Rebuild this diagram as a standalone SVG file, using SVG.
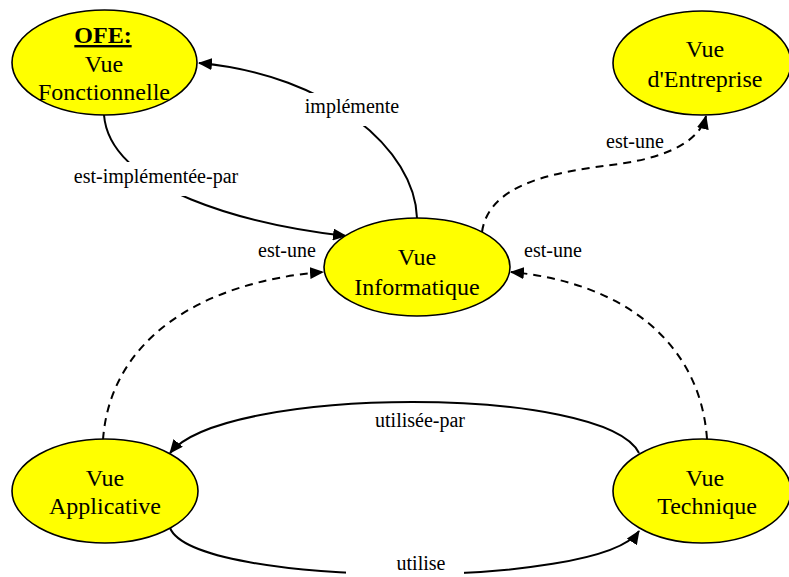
<svg xmlns="http://www.w3.org/2000/svg" width="789" height="577" viewBox="0 0 789 577">
<defs>
<marker id="arr" markerWidth="14" markerHeight="12" refX="13" refY="6" orient="auto" markerUnits="userSpaceOnUse">
<path d="M0,0 L14,6 L0,12 z" fill="#000"/>
</marker>
<style>
.node ellipse{fill:#ffff00;stroke:#000;stroke-width:1.6}
.node text{font-family:"Liberation Serif","Times New Roman",serif;font-size:24px;fill:#000;text-anchor:middle}
.edge{fill:none;stroke:#000;stroke-width:2;marker-end:url(#arr)}
.dash{stroke-dasharray:8,6}
.lbl{font-family:"Liberation Serif","Times New Roman",serif;font-size:20px;fill:#000;text-anchor:middle}
.bg{fill:#fff}
</style>
</defs>
<rect width="789" height="577" fill="#fff"/>
<g id="connectors">
<path class="edge" d="M417,218 C415,150 330,75 199,63"/>
<path class="edge" d="M104,115 C110,190 250,225 346,236"/>
<path class="edge dash" d="M482,232 C490,175 580,170 625,163 C670,156 700,140 706,116"/>
<path class="edge dash" d="M103,440 C110,340 200,282 323,272"/>
<path class="edge dash" d="M707,439 C700,340 620,282 511,272"/>
<path class="edge" d="M639,453 C605,385 225,385 170,453"/>
<path class="edge" d="M170,528 C195,588 600,590 639,531"/>
<rect class="bg" x="302" y="93" width="100" height="33"/>
<text class="lbl" x="352" y="113">implémente</text>
<rect class="bg" x="70" y="162" width="172" height="34"/>
<text class="lbl" x="156" y="183">est-implémentée-par</text>
<text class="lbl" x="635" y="148">est-une</text>
<text class="lbl" x="287" y="257">est-une</text>
<text class="lbl" x="553" y="257">est-une</text>
<text class="lbl" x="420" y="427">utilisée-par</text>
<rect class="bg" x="346" y="553" width="118" height="24"/>
<text class="lbl" x="421" y="570">utilise</text>
</g>
<g id="ofe" class="node">
<ellipse cx="104.5" cy="62.5" rx="92.5" ry="52.5"/>
<text x="103" y="43" font-weight="bold" text-decoration="underline">OFE:</text>
<text x="104" y="72">Vue</text>
<text x="104" y="100">Fonctionnelle</text>
</g>
<g id="entreprise" class="node">
<ellipse cx="702" cy="63" rx="89" ry="52"/>
<text x="705" y="57">Vue</text>
<text x="705" y="87">d'Entreprise</text>
</g>
<g id="informatique" class="node">
<ellipse cx="417" cy="267" rx="93" ry="49"/>
<text x="417" y="265">Vue</text>
<text x="417" y="295">Informatique</text>
</g>
<g id="applicative" class="node">
<ellipse cx="105" cy="491" rx="93" ry="52"/>
<text x="105" y="486">Vue</text>
<text x="105" y="514">Applicative</text>
</g>
<g id="technique" class="node">
<ellipse cx="702" cy="491" rx="89" ry="52"/>
<text x="705" y="486">Vue</text>
<text x="707" y="514">Technique</text>
</g>
</svg>
